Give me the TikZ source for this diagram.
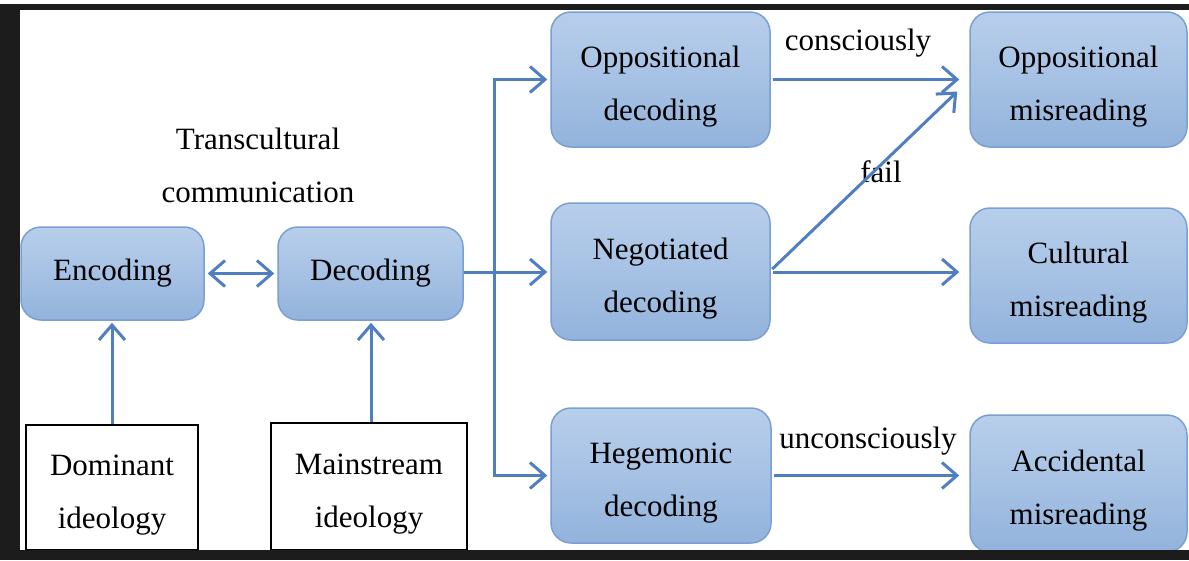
\documentclass[tikz,border=0pt]{standalone}
\usepackage{fontspec}
\setmainfont{Liberation Serif}
\usetikzlibrary{arrows.meta,calc}
\definecolor{arrblue}{HTML}{4F7FC1}
\definecolor{boxedge}{HTML}{7A9FD2}
\definecolor{boxtop}{HTML}{B8CFEB}
\definecolor{boxbot}{HTML}{93B3DC}
\definecolor{framec}{HTML}{1C1C1C}
\newcommand\tup{\rule{0pt}{35pt}}
\begin{document}
\begin{tikzpicture}[x=1pt,y=-1pt,
  txt/.style={font=\fontsize{31}{53}\selectfont},
  bluebox/.style={txt, draw=boxedge, line width=1.5pt, rounded corners=20pt,
    top color=boxtop, bottom color=boxbot, align=center, inner sep=0pt},
  whitebox/.style={txt, draw=black, line width=1.5pt, fill=white, align=center, inner sep=0pt},
  lab/.style={txt, inner sep=0pt},
  arr/.style={draw=arrblue, line width=3pt, -{Straight Barb[length=15pt,width=26pt]}},
  darr/.style={draw=arrblue, line width=3pt, {Straight Barb[length=15pt,width=26pt]}-{Straight Barb[length=15pt,width=26pt]}},
]
\useasboundingbox (0,0) rectangle (1189,560);
\fill[white] (0,0) rectangle (1189,560);

% blue boxes
\node[bluebox, minimum width=183pt, minimum height=93pt] (enc) at (112.5,273.5) {Encoding};
\node[bluebox, minimum width=185pt, minimum height=93pt] (dec) at (370.5,273.5) {Decoding};
\node[bluebox, minimum width=219pt, minimum height=135pt] (opp) at (660.5,79.5) {\tup Oppositional\\decoding};
\node[bluebox, minimum width=219pt, minimum height=137pt] (neg) at (660.5,271.5) {\tup Negotiated\\decoding};
\node[bluebox, minimum width=220pt, minimum height=135pt] (heg) at (661,475.5) {\tup Hegemonic\\decoding};
\node[bluebox, minimum width=217pt, minimum height=135pt] (oppm) at (1078.5,79.5) {\tup Oppositional\\misreading};
\node[bluebox, minimum width=217pt, minimum height=135pt] (cult) at (1078.5,275.5) {\tup Cultural\\misreading};
\node[bluebox, minimum width=217pt, minimum height=137pt] (acc) at (1078.5,483.5) {\tup Accidental\\misreading};

% white boxes
\node[whitebox, minimum width=172pt, minimum height=125pt] (dom) at (112,487.5) {\tup Dominant\\ideology};
\node[whitebox, minimum width=196pt, minimum height=127pt] (main) at (369,486.5) {\tup Mainstream\\ideology};

% labels
\node[lab, align=center] (trans) at (258,165) {Transcultural\\communication};
\node[lab, anchor=base] (consc) at (858,50) {consciously};
\node[lab, anchor=base] (fail) at (881,182) {fail};
\node[lab, anchor=base] (uncon) at (868,448) {unconsciously};

% connectors
\coordinate (j) at (494,272);
\draw[darr, shorten <=3pt, shorten >=3pt] (enc.east) -- (dec.west);
\draw[arr] (dom.north) -- ([yshift=-2pt]dom.north |- enc.south);
\draw[arr] ([xshift=2pt]main.north) -- ([xshift=2pt,yshift=-2pt]main.north |- dec.south);
\draw[arr, shorten >=3pt] (dec.east |- j) -- (neg.west |- j);
\draw[arr, shorten >=3pt] (j) |- (opp.west);
\draw[arr, shorten >=3pt] (j) |- (heg.west);
\draw[line width=3pt, arrblue] (j |- opp.west) -- (j |- heg.west);
\draw[arr, shorten <=2pt, shorten >=10pt] (opp.east) -- (opp.east -| oppm.west);
\draw[arr, shorten <=2pt] ([yshift=1pt]neg.east) -- ($(oppm.west)+(-12,12)$);
\draw[arr, shorten <=2pt, shorten >=10pt] (neg.east |- j) -- (j -| cult.west);
\draw[arr, shorten <=2pt, shorten >=10pt] (heg.east) -- (heg.east -| acc.west);

% frame
\fill[framec] (0,4) rectangle (1189,10);
\fill[framec] (0,4) rectangle (20,560);
\fill[framec] (0,550) rectangle (1189,560);
\end{tikzpicture}
\end{document}
